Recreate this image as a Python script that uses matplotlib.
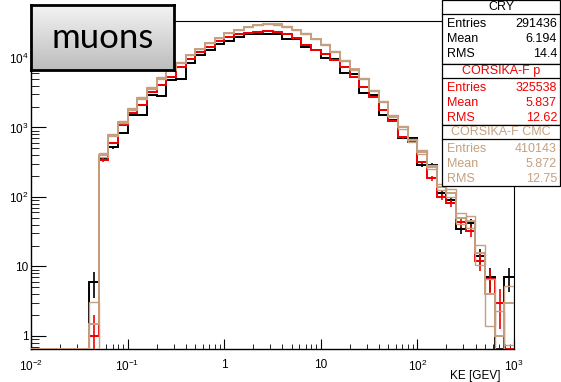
import numpy as np
import matplotlib; matplotlib.use('Agg')
import matplotlib.pyplot as plt
from matplotlib.patches import Rectangle

# ─── Data (counts per bin, 50 log bins from 1e-2 to 1e3 GeV) ──────────
EDGES_LOG = np.linspace(-2, 3, 51)
cry = [0, 0, 0, 0, 0, 0, 6, 360, 520, 830,
       1500, 1500, 2900, 2830, 4800, 5000, 8500, 11000, 13000, 16000,
       17400, 20000, 21900, 22000, 22400, 22000, 18700, 18700, 14400, 13200,
       10000, 9500, 6000, 5900, 3160, 2950, 1500, 1290, 700, 700,
       290, 290, 115, 91, 35, 42, 14, 7, 0, 7]
cors_p = [0, 0, 0, 0, 0, 0, 1, 340, 600, 1100,
          1620, 2100, 3240, 4070, 5370, 7400, 9800, 12300, 14500, 17400,
          20000, 22400, 23000, 24000, 24500, 24000, 22400, 19500, 15500, 13200,
          11500, 9300, 7400, 5400, 3800, 2750, 1780, 1230, 720, 620,
          316, 186, 100, 81, 43, 32, 12, 6.5, 3, 0]
cors_cmc = [0, 0, 0, 0, 0, 0, 1.5, 400, 780, 1200,
            1850, 2650, 3700, 5150, 6900, 8500, 11000, 13500, 16500, 19400,
            22900, 25200, 27900, 29700, 30800, 30500, 28200, 25200, 22400, 18800,
            15500, 12300, 9100, 6900, 5000, 3400, 2350, 1450, 1000, 650,
            440, 270, 140, 115, 50, 45, 15.5, 4, 1, 3]

stats_names = ['CRY', 'CORSIKA-F p', 'CORSIKA-F CMC']
stats_entries = ['291436', '325538', '410143']
stats_mean = ['6.194', '5.837', '5.872']
stats_rms = ['14.4', '12.62', '12.75']

x_tick_vals = [1e-2, 1e-1, 1, 10, 1e2, 1e3]
x_tick_labels = [r'$10^{-2}$', r'$10^{-1}$', '1', '10', r'$10^{2}$', r'$10^{3}$']
y_tick_vals = [1, 10, 1e2, 1e3, 1e4]
y_tick_labels = ['1', '10', r'$10^{2}$', r'$10^{3}$', r'$10^{4}$']

# ─── Style ─────────────────────────────────────────────────
C = {'cry': '#000000', 'p': '#f00000', 'cmc': '#c4a080'}
plt.rcParams.update({'font.family': ['Liberation Sans', 'DejaVu Sans'],
                     'mathtext.fontset': 'custom',
                     'mathtext.rm': 'Liberation Sans',
                     'mathtext.it': 'Liberation Sans',
                     'font.size': 8})

W, H = 561, 382
YMIN, YMAX = 0.65, 34000

def fx(x): return x / W
def fy(y): return 1 - y / H

fig = plt.figure(figsize=(W / 100, H / 100), dpi=100)
ax = fig.add_axes([fx(31), fy(349), fx(514) - fx(31), fy(21) - fy(349)])
ax.set_xscale('log'); ax.set_yscale('log')
ax.set_xlim(1e-2, 1e3); ax.set_ylim(YMIN, YMAX)

edges = 10 ** EDGES_LOG
centers = 10 ** (0.5 * (EDGES_LOG[:-1] + EDGES_LOG[1:]))
xlo, xhi = centers - edges[:-1], edges[1:] - centers

def draw_hist(vals, color, kind):
    v = np.array(vals, dtype=float)
    shown = np.where(v > 0, v, YMIN)
    ax.stairs(shown, edges, baseline=None, color=color, lw=1.4, zorder=3)
    m = v > 0
    err = np.sqrt(v[m])
    if kind == 'bars':
        lo = np.minimum(err, v[m] - YMIN * 1.001)
        ax.errorbar(centers[m], v[m], yerr=[lo, err], xerr=[xlo[m], xhi[m]],
                    fmt='none', ecolor=color, elinewidth=1.2, zorder=3)
    else:
        e2 = 1.3 * err
        bot = np.maximum(v[m] - e2, YMIN)
        for c, l, r, b, t in zip(centers[m], xlo[m], xhi[m], bot, v[m] + e2):
            ax.add_patch(Rectangle((c - l, b), l + r, t - b, fill=False,
                                   edgecolor=color, lw=1.0, zorder=4))

draw_hist(cry, C['cry'], 'bars')
draw_hist(cors_p, C['p'], 'bars')
draw_hist(cors_cmc, C['cmc'], 'boxes')

ax.set_xticks(x_tick_vals, x_tick_labels)
ax.set_yticks(y_tick_vals, y_tick_labels)
ax.tick_params(which='both', direction='in', top=False, right=False)
ax.tick_params(axis='x', which='major', length=7, pad=7, labelsize=8.5)
ax.tick_params(axis='x', which='minor', length=3.5)
ax.tick_params(axis='y', which='major', length=11, pad=2, labelsize=8.5)
ax.tick_params(axis='y', which='minor', length=5.5)
for s in ax.spines.values():
    s.set_linewidth(1.0)
ax.spines['top'].set_linewidth(0.8)
ax.spines['right'].set_linewidth(0.8)

fig.text(fx(500), fy(376), 'KE [GEV]', ha='right', va='center', fontsize=8.5)

# ─── Stat boxes ────────────────────────────────────────────
box_tops = [0, 64, 125]
box_h = [64, 61, 61]
colors = [C['cry'], C['p'], C['cmc']]
for i in range(3):
    top = box_tops[i]
    fig.add_artist(Rectangle((fx(442), fy(top + box_h[i])), fx(560) - fx(442),
                             fy(top) - fy(top + box_h[i]), transform=fig.transFigure,
                             facecolor='white', edgecolor='black', lw=0.9, zorder=10))
    fig.add_artist(plt.Line2D([fx(442), fx(560)], [fy(top + 14), fy(top + 14)],
                              transform=fig.transFigure, color='black', lw=0.9, zorder=11))
    fig.text(fx(501), fy(top + 7), stats_names[i], ha='center', va='center',
             color=colors[i], fontsize=9, zorder=12)
    rows = [('Entries', stats_entries[i]), ('Mean', stats_mean[i]), ('RMS', stats_rms[i])]
    for j, (k, val) in enumerate(rows):
        yy = top + 24 + j * 15
        fig.text(fx(447), fy(yy), k, ha='left', va='center', color=colors[i],
                 fontsize=9, zorder=12)
        fig.text(fx(557), fy(yy), val, ha='right', va='center', color=colors[i],
                 fontsize=9, zorder=12)

# ─── "muons" label box ─────────────────────────────────────
lab = fig.add_axes([fx(31), fy(70), fx(174) - fx(31), fy(5) - fy(70)], zorder=20)
grad = np.linspace(0.95, 0.74, 64)[:, None]
lab.imshow(np.repeat(grad, 4, axis=1), cmap='gray', vmin=0, vmax=1,
           aspect='auto', extent=[0, 1, 0, 1], origin='upper')
lab.set_xticks([]); lab.set_yticks([])
for s in lab.spines.values():
    s.set_linewidth(2.0)
lab.text(0.5, 0.5, 'muons', ha='center', va='center', fontsize=25,
         family=['Lato', 'DejaVu Sans'], transform=lab.transAxes)

fig.savefig('out.png', dpi=100)
